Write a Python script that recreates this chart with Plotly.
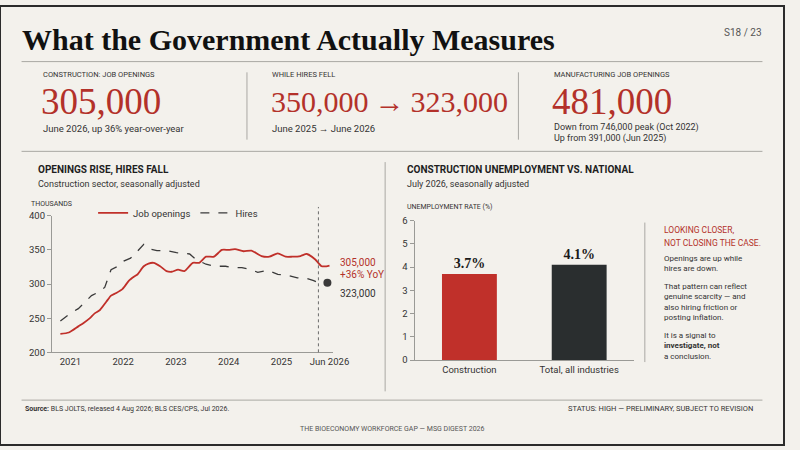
import plotly.graph_objects as go

# ---- data ----
# construction job openings (thousands), time in chart years
t_open = [2020.81, 2020.97, 2021.15, 2021.25, 2021.37, 2021.46, 2021.56, 2021.68, 2021.77,
          2021.87, 2021.99, 2022.11, 2022.21, 2022.27, 2022.39, 2022.48, 2022.58, 2022.70,
          2022.82, 2022.92, 2023.04, 2023.16, 2023.32, 2023.44, 2023.57, 2023.72, 2023.87,
          2024.00, 2024.12, 2024.28, 2024.43, 2024.62, 2024.77, 2024.93, 2025.08, 2025.20,
          2025.36, 2025.48, 2025.64, 2025.76, 2025.85, 2025.91]
openings = [227, 229, 238, 243, 250, 257, 262, 274, 283,
            287, 293, 305, 311, 314, 326, 330, 331, 326,
            319, 318, 321, 319, 331, 331, 340, 340, 350,
            350, 351, 348, 349, 341, 340, 345, 340, 340,
            341, 344, 336, 326, 326, 327]

# construction hires (thousands)
t_hire = [2020.81, 2021.00, 2021.15, 2021.28, 2021.40, 2021.53, 2021.65, 2021.77, 2021.90,
          2022.02, 2022.14, 2022.27, 2022.39, 2022.51, 2022.64, 2022.82, 2023.01, 2023.26,
          2023.38, 2023.57, 2023.75, 2023.94, 2024.06, 2024.25, 2024.43, 2024.55, 2024.74,
          2024.93, 2025.11, 2025.30, 2025.48, 2025.61, 2025.70]
hires = [246, 257, 264, 274, 283, 288, 295, 321, 326,
         334, 338, 348, 358, 351, 349, 349, 346, 344,
         336, 329, 326, 326, 324, 324, 321, 317, 320,
         314, 313, 309, 308, 305, 302]

end_t = 2025.87
end_hires = 302
cutoff_t = 2025.70

year_ticks = [2021, 2022, 2023, 2024, 2025, 2025.91]
year_labels = ['2021', '2022', '2023', '2024', '2025', 'Jun 2026']

# unemployment rate, July 2026
groups = ['Construction', 'Total, all industries']
rates = [3.7, 4.1]
rate_labels = ['<b>3.7%</b>', '<b>4.1%</b>']

RED = '#c0302a'
TXT_RED = '#b3312a'
DARK = '#2a2e2f'
BG = '#f3f1ec'
SANS = 'Roboto, Arial, sans-serif'
SERIF = 'Liberation Serif, Times New Roman, serif'


def px(x):
    return x / 800


def py(y):
    return 1 - y / 450


fig = go.Figure()

# left: openings vs hires
fig.add_trace(go.Scatter(x=t_open, y=openings, mode='lines', name='Job openings',
                         line=dict(color=RED, width=1.8, shape='spline', smoothing=0.6),
                         xaxis='x', yaxis='y', hoverinfo='skip'))
fig.add_trace(go.Scatter(x=t_hire, y=hires, mode='lines', name='Hires',
                         line=dict(color='#3a3a3a', width=1.3, dash='dash'),
                         xaxis='x', yaxis='y', hoverinfo='skip'))
fig.add_trace(go.Scatter(x=[end_t], y=[end_hires], mode='markers', showlegend=False,
                         marker=dict(color='#3a3a3a', size=8),
                         xaxis='x', yaxis='y', hoverinfo='skip'))

# right: bar chart
fig.add_trace(go.Bar(x=groups, y=rates, marker=dict(color=[RED, DARK], line=dict(width=0)),
                     width=0.5, text=rate_labels, textposition='outside',
                     textfont=dict(family=SERIF, size=14, color='#1a1a1a'),
                     showlegend=False, xaxis='x2', yaxis='y2', hoverinfo='skip',
                     cliponaxis=False))

axis_common = dict(showgrid=False, zeroline=False, linecolor='#9a9a96', linewidth=1,
                   tickfont=dict(family=SANS, size=9.5, color='#333333'))

fig.update_layout(
    width=800, height=450,
    margin=dict(l=0, r=0, t=0, b=0),
    paper_bgcolor=BG, plot_bgcolor=BG,
    showlegend=True,
    legend=dict(orientation='h', x=px(95), y=py(212), xanchor='left', yanchor='middle',
                bgcolor='rgba(0,0,0,0)', font=dict(family=SANS, size=9.5, color='#333333'),
                itemwidth=30, tracegroupgap=0),
    xaxis=dict(domain=[px(53), px(340)], range=[2020.65, 2025.98],
               tickvals=year_ticks, ticktext=year_labels, ticks='', showline=True,
               **axis_common),
    yaxis=dict(domain=[py(355), py(215)], range=[200, 400], tickvals=[200, 250, 300, 350, 400],
               ticks='outside', ticklen=4, tickcolor='#9a9a96', showline=True, **axis_common),
    xaxis2=dict(domain=[px(423), px(647)], range=[-0.5, 1.5], ticks='', showline=True,
                anchor='y2', **axis_common),
    yaxis2=dict(domain=[py(363), py(220)], range=[0, 6], tickvals=list(range(7)),
                ticks='outside', ticklen=4, tickcolor='#9a9a96', showline=True,
                anchor='x2', **axis_common),
)

lines = [
    (22, 57, 778, 57), (22, 149, 778, 149), (22, 404, 778, 404),
    (252, 68, 252, 137), (529, 68, 529, 137),
    (393, 160, 393, 395), (658, 222, 658, 365),
]
shapes = [dict(type='rect', xref='paper', yref='paper', x0=0, y0=0, x1=1, y1=1,
               line=dict(color='#2b2b2b', width=2))]
for x0, y0, x1, y1 in lines:
    shapes.append(dict(type='line', xref='paper', yref='paper',
                       x0=px(x0), y0=py(y0), x1=px(x1), y1=py(y1),
                       line=dict(color='#a9a8a3', width=1)))
shapes.append(dict(type='line', xref='x', yref='paper', x0=cutoff_t, x1=cutoff_t,
                   y0=py(355), y1=py(206), line=dict(color='#6b6b6b', width=1, dash='dot')))
fig.update_layout(shapes=shapes)


def note(x, y, text, size=9, color='#333333', family=SANS, xanchor='left', yanchor='middle'):
    fig.add_annotation(x=px(x), y=py(y), xref='paper', yref='paper', text=text,
                       showarrow=False, xanchor=xanchor, yanchor=yanchor, align='left',
                       font=dict(size=size, color=color, family=family))


note(20, 34, '<b>What the Government Actually Measures</b>', size=30, color='#111111', family=SERIF)
note(780, 27, 'S18 / 23', size=10, color='#555555', xanchor='right')

# KPI row
note(42, 70, 'CONSTRUCTION: JOB OPENINGS', size=7.5, color='#333333')
note(40, 98, '305,000', size=37, color=TXT_RED, family=SERIF)
note(42, 126, 'June 2026, up 36% year-over-year', size=9.5, color='#333333')

note(276, 70, 'WHILE HIRES FELL', size=7.5, color='#333333')
note(274, 98, '350,000\u2009\u2192\u2009323,000', size=30, color=TXT_RED, family=SERIF)
note(276, 126, 'June 2025 \u2192 June 2026', size=9.5, color='#333333')

note(563, 70, 'MANUFACTURING JOB OPENINGS', size=7.5, color='#333333')
note(561, 98, '481,000', size=37, color=TXT_RED, family=SERIF)
note(563, 125, 'Down from 746,000 peak (Oct 2022)', size=9, color='#333333')
note(563, 136, 'Up from 391,000 (Jun 2025)', size=9, color='#333333')

# section headers
note(37, 168, '<b>OPENINGS RISE, HIRES FALL</b>', size=10, color='#1e1e1e')
note(37, 182, 'Construction sector, seasonally adjusted', size=9, color='#333333')
note(413, 168, '<b>CONSTRUCTION UNEMPLOYMENT VS. NATIONAL</b>', size=10, color='#1e1e1e')
note(413, 182, 'July 2026, seasonally adjusted', size=9, color='#333333')

note(30, 203, 'THOUSANDS', size=7, color='#333333')
note(413, 206, 'UNEMPLOYMENT RATE (%)', size=7, color='#333333')

# end labels on line chart
note(345, 263, '305,000', size=10, color=TXT_RED)
note(345, 275, '+36% YoY', size=10, color=TXT_RED)
note(345, 295, '323,000', size=10, color='#333333')

# side note
note(675, 230, 'LOOKING CLOSER,', size=8.5, color=TXT_RED)
note(675, 243, 'NOT CLOSING THE CASE.', size=8.5, color=TXT_RED)
note(675, 264, 'Openings are up while<br>hires are down.', size=8, color='#333333')
note(675, 303, 'That pattern can reflect<br>genuine scarcity \u2014 and<br>also hiring friction or<br>posting inflation.',
     size=8, color='#333333')
note(675, 349, 'It is a signal to<br><b>investigate, not</b><br>a conclusion.', size=8, color='#333333')

# footer
note(23, 413, '<b>Source:</b> BLS JOLTS, released 4 Aug 2026; BLS CES/CPS, Jul 2026.', size=7, color='#333333')
note(770, 413, 'STATUS: HIGH \u2014 PRELIMINARY, SUBJECT TO REVISION', size=7.5, color='#333333', xanchor='right')
note(400, 434, 'THE BIOECONOMY WORKFORCE GAP \u2014 MSG DIGEST 2026', size=7, color='#555555', xanchor='center')

# pin the page to exactly the figure: no margins, nothing spilling past 800x450
page_css = 'margin:0;padding:0;width:800px;height:450px;overflow:clip;background:' + BG
fit_js = ("document.documentElement.style.cssText='" + page_css + "';"
          "document.body.style.cssText='" + page_css + "';")
fig.write_html('out.html', config={'displayModeBar': False}, post_script=fit_js)
